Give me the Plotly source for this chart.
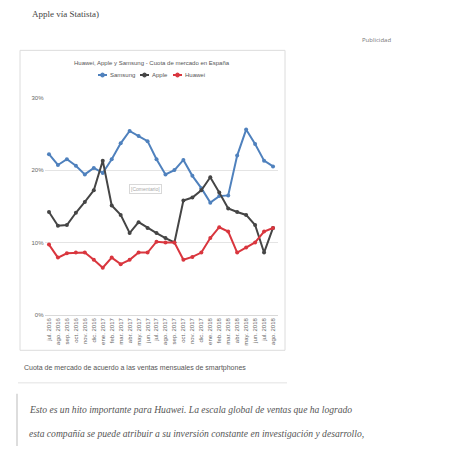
import plotly.graph_objects as go

W, H = 460, 449

months = ["jul. 2016", "ago. 2016", "sep. 2016", "oct. 2016", "nov. 2016", "dic. 2016",
          "ene. 2017", "feb. 2017", "mar. 2017", "abr. 2017", "may. 2017", "jun. 2017",
          "jul. 2017", "ago. 2017", "sep. 2017", "oct. 2017", "nov. 2017", "dic. 2017",
          "ene. 2018", "feb. 2018", "mar. 2018", "abr. 2018", "may. 2018", "jun. 2018",
          "jul. 2018", "ago. 2018"]

samsung = [22.2, 20.7, 21.5, 20.6, 19.4, 20.3, 19.6, 21.5, 23.7, 25.4, 24.7, 24.0, 21.5,
           19.4, 20.0, 21.4, 19.2, 17.5, 15.5, 16.4, 16.5, 22.0, 25.6, 23.6, 21.3, 20.5]
apple = [14.2, 12.3, 12.4, 14.1, 15.6, 17.2, 21.3, 15.1, 13.8, 11.3, 12.8, 12.0, 11.3,
         10.6, 10.0, 15.8, 16.2, 17.2, 19.0, 16.9, 14.7, 14.2, 13.8, 12.4, 8.6, 12.0]
huawei = [9.7, 7.9, 8.5, 8.6, 8.6, 7.6, 6.5, 7.9, 7.0, 7.6, 8.6, 8.6, 10.1,
          10.0, 10.0, 7.6, 8.0, 8.6, 10.6, 12.1, 11.5, 8.6, 9.3, 10.0, 11.5, 12.0]

y_ticks = [0, 10, 20, 30]
y_labels = ["0%", "10%", "20%", "30%"]

names = ["Samsung", "Apple", "Huawei"]
colors = ["#4f81bd", "#454545", "#d9363e"]


def px(x):
    return x / W


def py(y):
    return 1 - y / H


fig = go.Figure()
for name, vals, col in zip(names, [samsung, apple, huawei], colors):
    fig.add_trace(go.Scatter(
        x=months, y=vals, name=name, mode="lines+markers",
        line=dict(color=col, width=2),
        marker=dict(color=col, size=4),
        showlegend=False,
    ))

shapes = [
    dict(type="rect", xref="paper", yref="paper",
         x0=px(20), x1=px(285), y0=py(352), y1=py(48),
         line=dict(color="#dcdcdc", width=1), fillcolor="rgba(0,0,0,0)", layer="below"),
    dict(type="line", xref="paper", yref="paper",
         x0=px(18), x1=px(287), y0=py(385), y1=py(385),
         line=dict(color="#e2e2e2", width=1)),
    dict(type="line", xref="paper", yref="paper",
         x0=px(17), x1=px(17), y0=py(396), y1=py(449),
         line=dict(color="#dddddd", width=2)),
]

annotations = [
    dict(text="Apple vía Statista)", x=px(30), y=py(11), xref="paper", yref="paper",
         xanchor="left", yanchor="middle", showarrow=False,
         font=dict(family="Liberation Serif", size=9, color="#444")),
    dict(text="Publicidad", x=px(376), y=py(37), xref="paper", yref="paper",
         xanchor="center", yanchor="middle", showarrow=False,
         font=dict(family="Open Sans", size=6, color="#777")),
    dict(text="Huawei, Apple y Samsung - Cuota de mercado en España", x=px(152), y=py(61),
         xref="paper", yref="paper", xanchor="center", yanchor="middle", showarrow=False,
         font=dict(family="Liberation Sans", size=6, color="#555")),
    dict(text="[Comentario]", x=px(145), y=py(189), xref="paper", yref="paper",
         xanchor="center", yanchor="middle", showarrow=False,
         bordercolor="#d8d8d8", borderwidth=1, borderpad=1,
         font=dict(family="Liberation Sans", size=5, color="#aaa")),
    dict(text="Cuota de mercado de acuerdo a las ventas mensuales de smartphones",
         x=px(22), y=py(370), xref="paper", yref="paper", xanchor="left", yanchor="middle",
         showarrow=False, font=dict(family="Liberation Sans", size=7, color="#555")),
    dict(text="<i>Esto es un hito importante para Huawei. La escala global de ventas que ha logrado</i>",
         x=px(27), y=py(412), xref="paper", yref="paper", xanchor="left", yanchor="middle",
         showarrow=False, font=dict(family="Liberation Serif", size=9.6, color="#555")),
    dict(text="<i>esta compañía se puede atribuir a su inversión constante en investigación y desarrollo,</i>",
         x=px(27), y=py(436), xref="paper", yref="paper", xanchor="left", yanchor="middle",
         showarrow=False, font=dict(family="Liberation Serif", size=9.6, color="#555")),
]

# compact legend drawn as shapes + text
leg_x = [98, 140, 173]
leg_y = 73
for name, col, lx in zip(names, colors, leg_x):
    shapes.append(dict(type="line", xref="paper", yref="paper",
                       x0=px(lx), x1=px(lx + 9), y0=py(leg_y), y1=py(leg_y),
                       line=dict(color=col, width=2)))
    shapes.append(dict(type="circle", xref="paper", yref="paper",
                       x0=px(lx + 2.5), x1=px(lx + 6.5), y0=py(leg_y + 2), y1=py(leg_y - 2),
                       line=dict(color=col, width=1), fillcolor=col))
    annotations.append(dict(text=name, x=px(lx + 10), y=py(leg_y), xref="paper", yref="paper",
                            xanchor="left", yanchor="middle", showarrow=False,
                            font=dict(family="Liberation Sans", size=6, color="#555")))

fig.update_layout(
    width=W, height=H,
    margin=dict(l=0, r=0, t=0, b=0),
    paper_bgcolor="white", plot_bgcolor="white",
    showlegend=False,
    xaxis=dict(domain=[px(44.5), px(277.5)], type="category", range=[-0.5, 25.5],
               showgrid=False, showline=True, linecolor="#d9d9d9", ticks="",
               tickangle=-90, tickfont=dict(family="Liberation Sans", size=6, color="#666")),
    yaxis=dict(domain=[py(316), py(96)], range=[0, 30], tickvals=y_ticks, ticktext=y_labels,
               showgrid=True, gridcolor="#e4e4e4", zeroline=False,
               showline=False, tickfont=dict(family="Liberation Sans", size=6, color="#666")),
    shapes=shapes,
    annotations=annotations,
)

fig.write_html("out.html")
